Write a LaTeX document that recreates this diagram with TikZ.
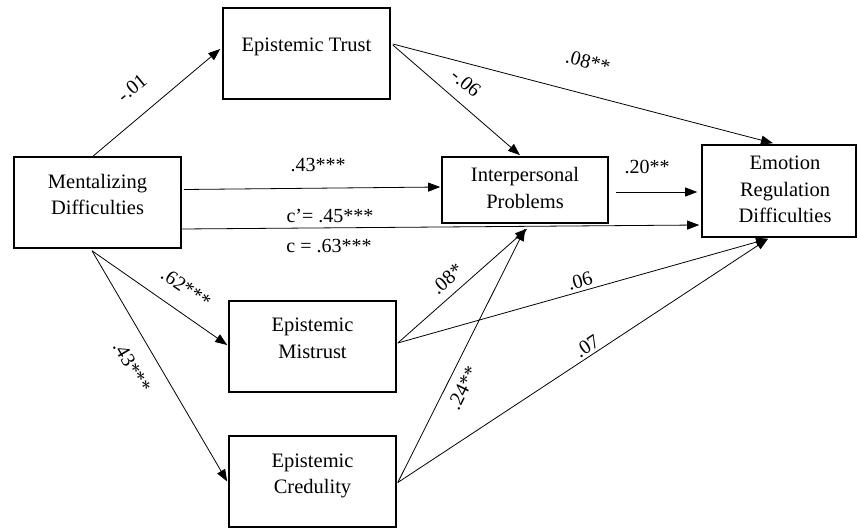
\documentclass[tikz,border=0pt]{standalone}
\usepackage{fontspec}
\setmainfont{Liberation Serif}
\usetikzlibrary{arrows.meta,calc}
\newcommand\bxt[2]{\raisebox{#1}[0pt][0pt]{\begin{tabular}{@{}c@{}}#2\end{tabular}}}
\begin{document}
\begin{tikzpicture}[x=1pt,y=-1pt,
  box/.style={draw, line width=1.6pt, rectangle, inner sep=0pt, font=\fontsize{20.5}{26.5}\selectfont},
  conn/.style={line width=0.8pt, -{Triangle[length=12pt,width=9pt]}},
  lbl/.style={font=\fontsize{20}{24}\selectfont, inner sep=0pt}]
\useasboundingbox (0,0) rectangle (857,529);
% boxes
\node[box, minimum width=167pt, minimum height=91pt] (et) at (306.5,53.5) {\bxt{1.7pt}{Epistemic Trust}};
\node[box, minimum width=167pt, minimum height=91pt] (md) at (97.5,202.5) {\bxt{0.9pt}{Mentalizing\\Difficulties}};
\node[box, minimum width=166pt, minimum height=66pt] (ip) at (525,190) {\bxt{-5.1pt}{Interpersonal\\Problems}};
\node[box, minimum width=154pt, minimum height=92pt] (erd) at (779,191) {\hspace*{12pt}\bxt{-5.1pt}{Emotion\\Regulation\\Difficulties}};
\node[box, minimum width=167pt, minimum height=91pt] (em) at (312.5,346.5) {\bxt{1.4pt}{Epistemic\\Mistrust}};
\node[box, minimum width=167pt, minimum height=91pt] (ec) at (312.5,481.5) {\bxt{0.9pt}{Epistemic\\Credulity}};
% connectors
\draw[conn] ($(md.north)+(-4.5,0)$) -- ($(et.west)+(-2,-4.5)$);
\draw[conn] ($(md.east)+(2,-13)$) -- ($(ip.west)+(-1,-3)$);
\draw[conn] ($(md.east)+(0,26.5)$) -- ($(erd.west)+(-2,34)$);
\draw[conn] ($(ip.east)+(7,2)$) -- ($(erd.west)+(-4,1)$);
\draw[conn] ($(et.east)+(2,-8.5)$) -- ($(ip.north)+(-5,-1)$);
\draw[conn] ($(et.east)+(2,-9.5)$) -- ($(erd.north)+(-6,-1)$);
\draw[conn] ($(md.south)+(-5.5,2)$) -- ($(em.west)+(-1,-1.5)$);
\draw[conn] ($(md.south)+(-5.5,2)$) -- ($(ec.west)+(-1,0)$);
\draw[conn] ($(em.east)+(1,-3.5)$) -- ($(ip.south)+(2,5)$);
\draw[conn] ($(em.east)+(1,-3.5)$) -- ($(erd.south)+(-11,1)$);
\draw[conn] ($(ec.east)+(1,1)$) -- ($(ip.south)+(0,5)$);
\draw[conn] ($(ec.east)+(1,1)$) -- ($(erd.south)+(-11,1)$);
% labels
\node[lbl, rotate=39.6] (l1) at (132,88) {-.01};
\node[lbl] (l2) at (318,165) {.43***};
\node[lbl] (l3) at (330,216) {c’= .45***};
\node[lbl] (l4) at (329,246) {c = .63***};
\node[lbl] (l5) at (647,167) {.20**};
\node[lbl, rotate=-40] (l6) at (466,83) {-.06};
\node[lbl, rotate=-14.6] (l7) at (588,62) {.08**};
\node[lbl, rotate=-34.4] (l8) at (186,288) {.62***};
\node[lbl, rotate=-59.4] (l9) at (132,367) {.43***};
\node[lbl, rotate=41] (l10) at (447,279) {.08*};
\node[lbl, rotate=16] (l11) at (580,281) {.06};
\node[lbl, rotate=63.4] (l12) at (463,388) {.24**};
\node[lbl, rotate=33.3] (l13) at (587,346) {.07};
\end{tikzpicture}
\end{document}
